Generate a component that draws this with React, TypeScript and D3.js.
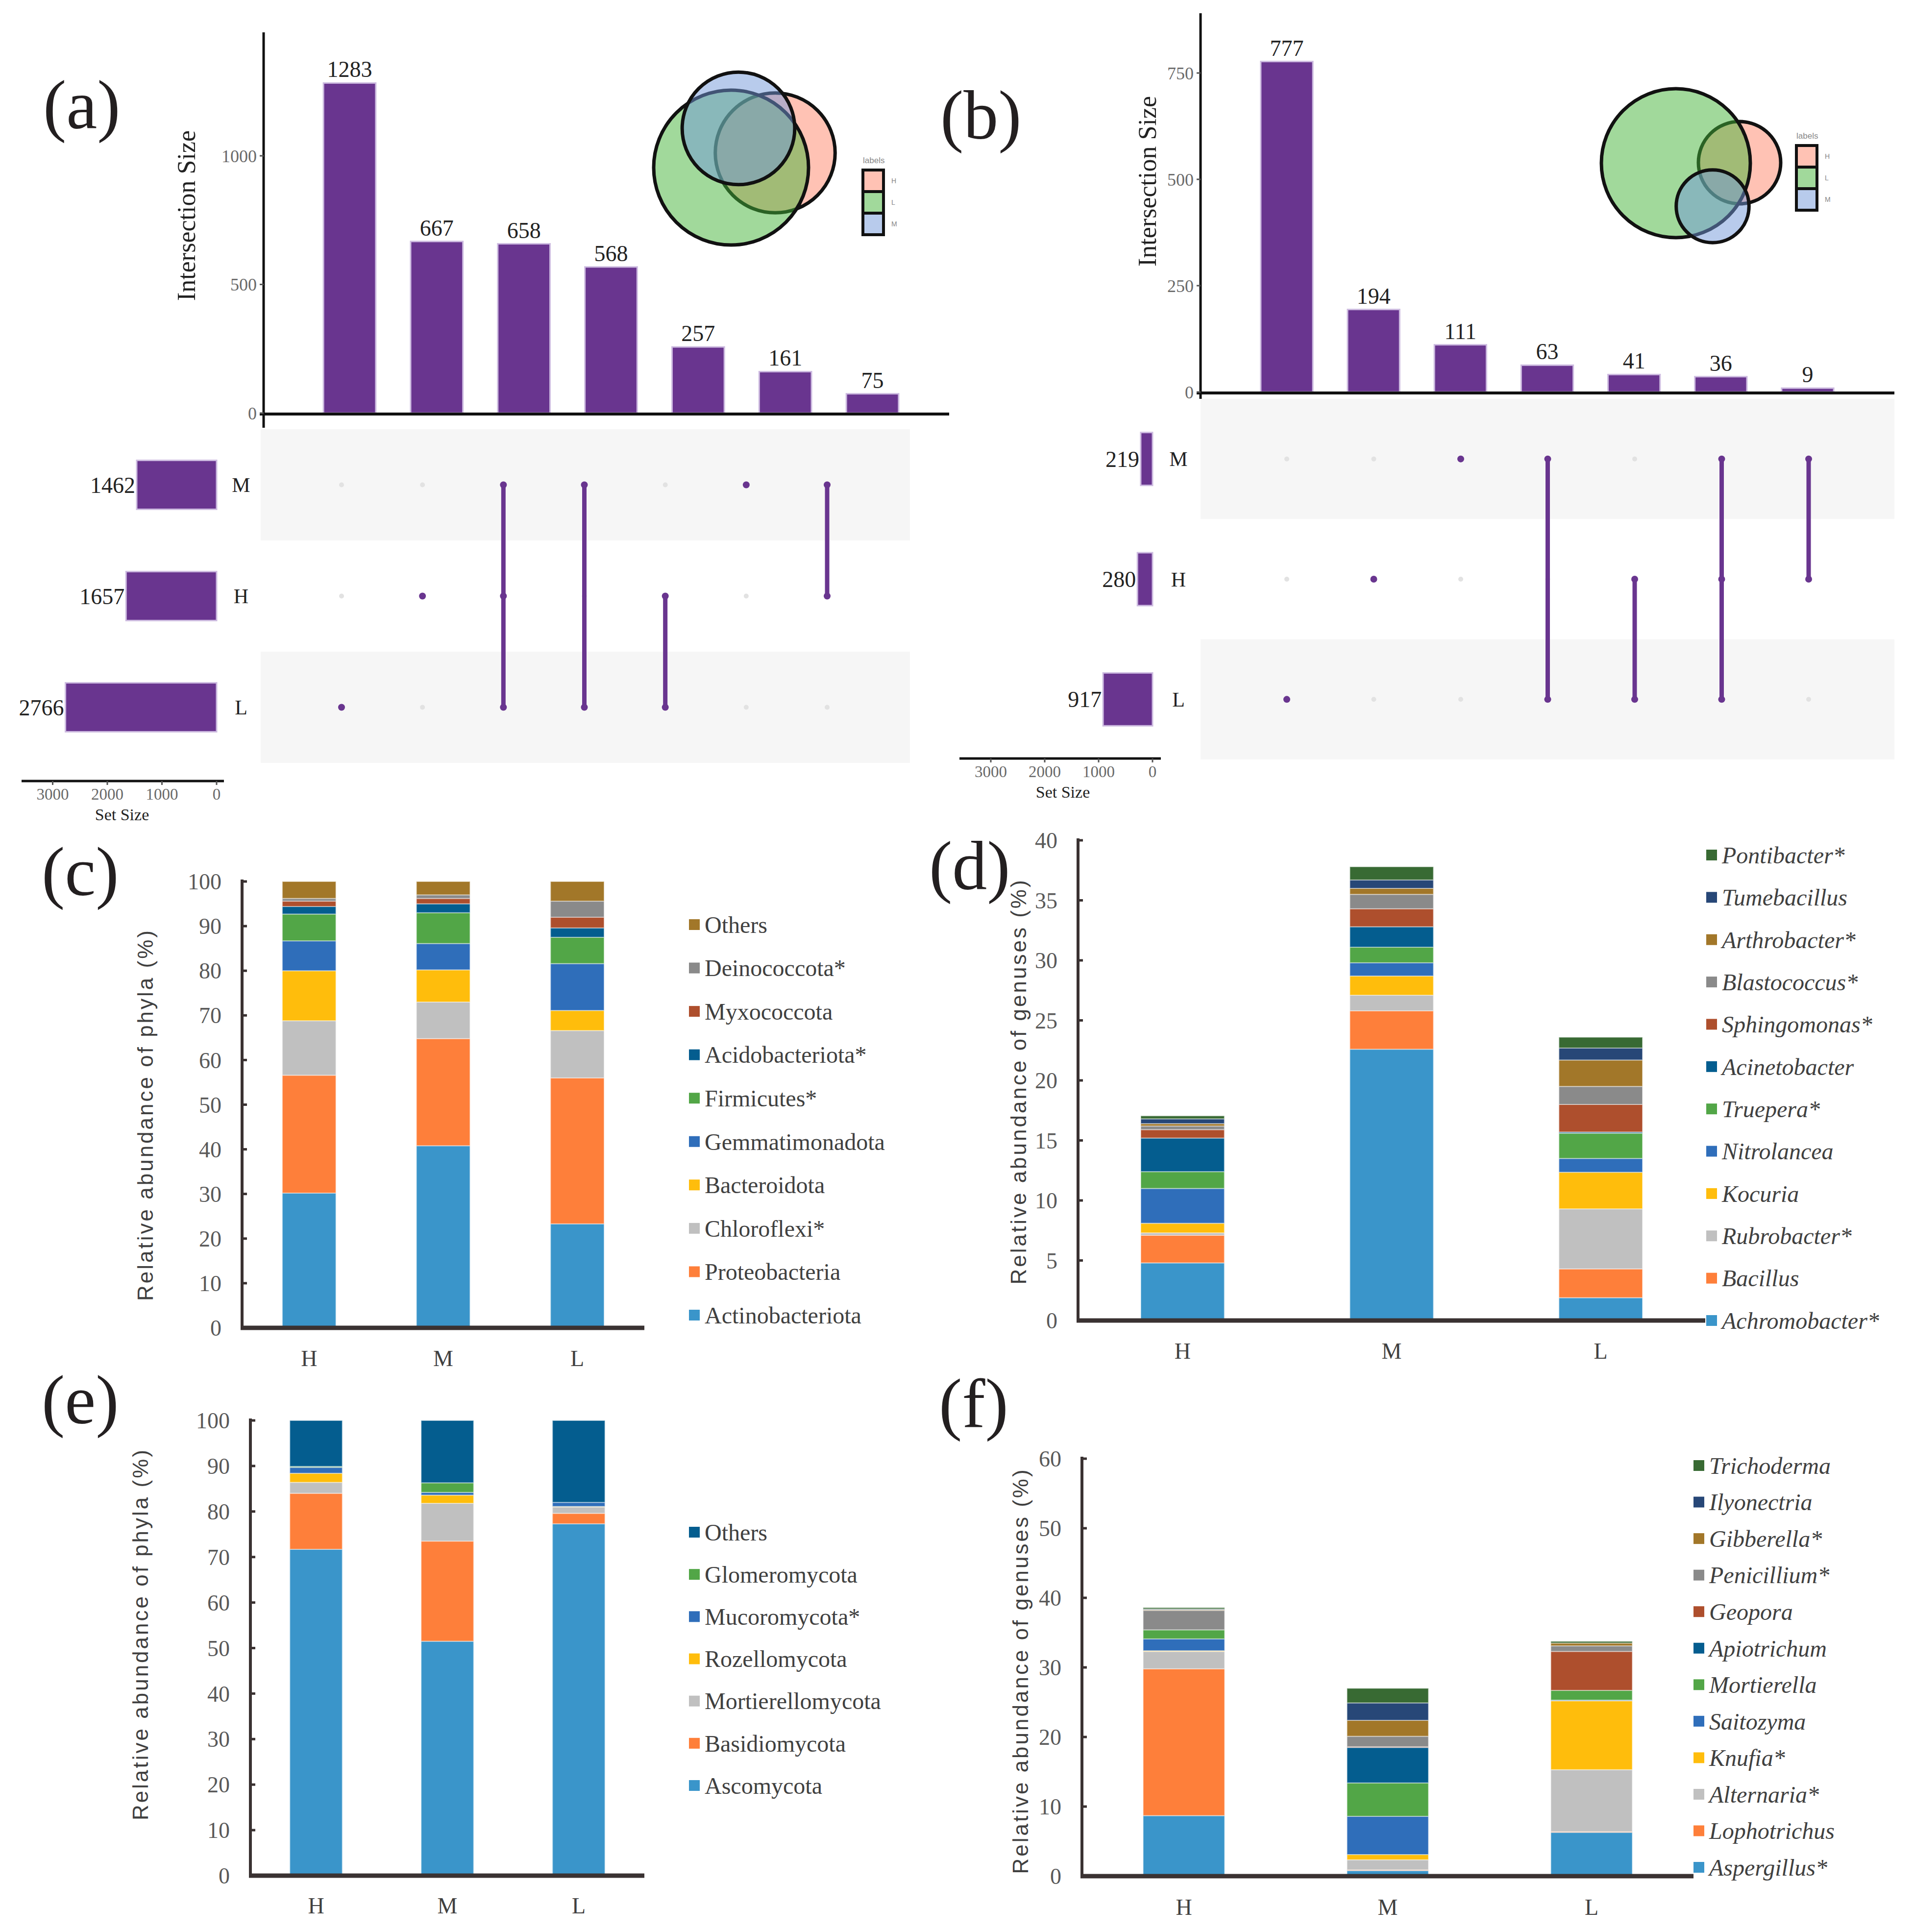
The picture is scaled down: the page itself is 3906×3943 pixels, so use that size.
import * as d3 from 'd3'

const W = 3906
const H = 3943
const SERIF = '"Liberation Serif", "DejaVu Serif", serif'
const SANS = '"Liberation Sans", Arial, sans-serif'
const PURPLE = '#69358f'
const AXIS = '#3a3232'

// UpSet data, rows of the matrix top to bottom
const setNames = ['M', 'H', 'L']

// (a) bacteria
const aSetSizes = [1462, 1657, 2766]
const aCounts = [1283, 667, 658, 568, 257, 161, 75]
const aMembers = [['L'], ['H'], ['M', 'H', 'L'], ['M', 'L'], ['H', 'L'], ['M'], ['M', 'H']]
const aTicks = [0, 500, 1000]

// (b) fungi
const bSetSizes = [219, 280, 917]
const bCounts = [777, 194, 111, 63, 41, 36, 9]
const bMembers = [['L'], ['H'], ['M'], ['M', 'L'], ['H', 'L'], ['M', 'H', 'L'], ['M', 'H']]
const bTicks = [0, 250, 500, 750]

const sizeTicks = [0, 1000, 2000, 3000]

// venn legend order and colours
const vennOrder = ['H', 'L', 'M']
const vennColors = ['#ff8569', '#43b337', '#7197d9']

// stacked bars
const groups = ['H', 'M', 'L']
const palette = ['#3a95ca', '#fe7f3a', '#c0c0c0', '#ffbd0c', '#2f6eba', '#52a647',
  '#045d8f', '#ae4f2d', '#8a8a8a', '#a27729', '#274777', '#386a33']

// (c) bacterial phyla, bottom to top
const bactPhyla = ['Actinobacteriota', 'Proteobacteria', 'Chloroflexi*', 'Bacteroidota', 'Gemmatimonadota',
  'Firmicutes*', 'Acidobacteriota*', 'Myxococcota', 'Deinococcota*', 'Others']
const bactPhylaH = [30.2, 26.4, 12.2, 11.2, 6.7, 6.0, 1.7, 1.2, 0.6, 3.8]
const bactPhylaM = [40.8, 24.0, 8.2, 7.2, 5.9, 6.9, 2.0, 1.2, 0.8, 3.0]
const bactPhylaL = [23.3, 32.7, 10.6, 4.5, 10.5, 5.9, 2.1, 2.4, 3.6, 4.4]

// (d) bacterial genera
const bactGenera = ['Achromobacter*', 'Bacillus', 'Rubrobacter*', 'Kocuria', 'Nitrolancea', 'Truepera*',
  'Acinetobacter', 'Sphingomonas*', 'Blastococcus*', 'Arthrobacter*', 'Tumebacillus', 'Pontibacter*']
const bactGeneraH = [4.8, 2.3, 0.2, 0.8, 2.9, 1.4, 2.8, 0.7, 0.3, 0.2, 0.4, 0.25]
const bactGeneraM = [22.6, 3.2, 1.3, 1.6, 1.1, 1.3, 1.7, 1.5, 1.2, 0.5, 0.7, 1.1]
const bactGeneraL = [1.9, 2.4, 5.0, 3.05, 1.15, 2.1, 0.1, 2.3, 1.5, 2.2, 1.0, 0.9]

// (e) fungal phyla
const fungPhyla = ['Ascomycota', 'Basidiomycota', 'Mortierellomycota', 'Rozellomycota', 'Mucoromycota*',
  'Glomeromycota', 'Others']
const fungPhylaH = [71.7, 12.3, 2.4, 2.0, 1.3, 0.2, 10.1]
const fungPhylaM = [51.5, 22.0, 8.3, 1.8, 0.6, 2.1, 13.7]
const fungPhylaL = [77.3, 2.3, 1.4, 0.1, 0.9, 0.0, 18.0]

// (f) fungal genera
const fungGenera = ['Aspergillus*', 'Lophotrichus', 'Alternaria*', 'Knufia*', 'Saitozyma', 'Mortierella',
  'Apiotrichum', 'Geopora', 'Penicillium*', 'Gibberella*', 'Ilyonectria', 'Trichoderma']
const fungGeneraH = [8.7, 21.1, 2.5, 0.1, 1.7, 1.3, 0.0, 0.0, 2.8, 0.1, 0.1, 0.2]
const fungGeneraM = [0.8, 0.1, 1.45, 0.75, 5.5, 4.8, 5.1, 0.1, 1.5, 2.3, 2.5, 2.1]
const fungGeneraL = [6.3, 0.1, 8.9, 9.9, 0.1, 1.4, 0.0, 5.6, 0.8, 0.4, 0.0, 0.25]

function UpSet({ counts, members, sizes, ticks, L }: any) {
  const cols = counts.map((_: number, i: number) => 'c' + i)
  const xBar = d3.scaleBand().domain(cols).range(L.barRange).paddingInner(0.4).paddingOuter(0.4)
  const y = d3.scaleLinear().domain([0, L.yRef]).range([L.y0, L.yRefPx])
  const xDot = d3.scalePoint().domain(cols).range(L.dotRange)
  const row = d3.scaleBand().domain(setNames).range(L.rowRange)
  const sx = d3.scaleLinear().domain([0, 1000]).range([L.sizeX0, L.sizeX0 - L.sizeK * 1000])
  const bh = row.bandwidth() * 0.44

  return (
    <g>
      {/* matrix background */}
      {setNames.map((s, i) => i % 2 === 0 && (
        <rect key={s} x={L.matX[0]} y={row(s)} width={L.matX[1] - L.matX[0]} height={row.bandwidth()} fill="#f6f6f6" />
      ))}
      {/* intersection bars */}
      {counts.map((c: number, i: number) => (
        <g key={i}>
          <rect x={xBar(cols[i])} y={y(c)} width={xBar.bandwidth()} height={y(0) - y(c)}
            fill={PURPLE} stroke="#cdbbe0" strokeWidth={3} />
          <text x={xBar(cols[i])! + xBar.bandwidth() / 2} y={y(c) - 12} textAnchor="middle"
            fontFamily={SERIF} fontSize={46} fill="#222">{c}</text>
        </g>
      ))}
      <line x1={L.axisX} x2={L.axisX} y1={L.axisTop} y2={L.axisBottom} stroke="#111" strokeWidth={5} />
      <line x1={L.axisX - 8} x2={L.baseEnd} y1={L.baseY} y2={L.baseY} stroke="#111" strokeWidth={6} />
      {ticks.map((t: number) => (
        <g key={t}>
          <line x1={L.axisX - 8} x2={L.axisX} y1={y(t)} y2={y(t)} stroke="#555" strokeWidth={3} />
          <text x={L.axisX - 14} y={y(t)} dy="0.35em" textAnchor="end" fontFamily={SERIF}
            fontSize={36} fill="#6a6a6a">{t}</text>
        </g>
      ))}
      <text transform={`translate(${L.titleX},${L.titleY}) rotate(-90)`} textAnchor="middle" dy="0.35em"
        fontFamily={SERIF} fontSize={52} fill="#222">Intersection Size</text>

      {/* dots */}
      {cols.map((c: string, i: number) => {
        const m = members[i]
        const ys = m.map((s: string) => row(s)! + row.bandwidth() / 2)
        return (
          <g key={c}>
            {setNames.map(s => (
              <circle key={s} cx={xDot(c)} cy={row(s)! + row.bandwidth() / 2} r={5} fill="#e2e2e2" />
            ))}
            {m.length > 1 && (
              <line x1={xDot(c)} x2={xDot(c)} y1={d3.min(ys)} y2={d3.max(ys)} stroke={PURPLE}
                strokeWidth={9} strokeLinecap="round" />
            )}
            {m.map((s: string) => (
              <circle key={s} cx={xDot(c)} cy={row(s)! + row.bandwidth() / 2} r={7} fill={PURPLE} />
            ))}
          </g>
        )
      })}

      {/* set sizes */}
      {setNames.map((s, i) => {
        const cy = row(s)! + row.bandwidth() / 2
        return (
          <g key={s}>
            <rect x={sx(sizes[i])} y={cy - bh / 2} width={sx(0) - sx(sizes[i])} height={bh}
              fill={PURPLE} stroke="#cdbbe0" strokeWidth={3} />
            <text x={sx(sizes[i]) - 3} y={cy} dy="0.35em" textAnchor="end" fontFamily={SERIF}
              fontSize={46} fill="#222">{sizes[i]}</text>
            <text x={L.setLabelX} y={cy} dy="0.35em" textAnchor="middle" fontFamily={SERIF}
              fontSize={42} fill="#222">{s}</text>
          </g>
        )
      })}
      <line x1={L.sizeAxis[0]} x2={L.sizeAxis[1]} y1={L.sizeAxisY} y2={L.sizeAxisY} stroke="#111" strokeWidth={5} />
      {sizeTicks.map(t => (
        <g key={t}>
          <line x1={sx(t)} x2={sx(t)} y1={L.sizeAxisY} y2={L.sizeAxisY + 8} stroke="#555" strokeWidth={3} />
          <text x={sx(t)} y={L.sizeAxisY + 38} textAnchor="middle" fontFamily={SERIF}
            fontSize={33} fill="#6a6a6a">{t}</text>
        </g>
      ))}
      <text x={L.sizeTitleX} y={L.sizeAxisY + 80} textAnchor="middle" fontFamily={SERIF}
        fontSize={34} fill="#222">Set Size</text>
    </g>
  )
}

function Venn({ sizes, centers, rMax, legend }: any) {
  const sizeOf = (s: string) => sizes[setNames.indexOf(s)]
  const r = d3.scaleSqrt().domain([0, d3.max(sizes) as number]).range([0, rMax])
  const key = d3.scaleBand().domain(vennOrder).range([legend.y, legend.y + 132])
  return (
    <g>
      {vennOrder.map((s, i) => (
        <circle key={s} cx={centers[s][0]} cy={centers[s][1]} r={r(sizeOf(s))}
          fill={vennColors[i]} fillOpacity={0.5} stroke="#111" strokeWidth={7} />
      ))}
      <text x={legend.x} y={legend.y - 14} fontFamily={SANS} fontSize={17} fill="#888">labels</text>
      {vennOrder.map((s, i) => (
        <g key={s}>
          <rect x={legend.x} y={key(s)} width={42} height={key.bandwidth()} fill="#fff" />
          <rect x={legend.x} y={key(s)} width={42} height={key.bandwidth()} fill={vennColors[i]}
            fillOpacity={0.5} stroke="#111" strokeWidth={6} />
          <text x={legend.x + 58} y={key(s)! + key.bandwidth() / 2} dy="0.35em" fontFamily={SANS}
            fontSize={14} fill="#888">{s}</text>
        </g>
      ))}
    </g>
  )
}

function Stacked({ keys, rows, L, italic }: any) {
  const table = groups.map((g, gi) => {
    const o: any = { group: g }
    keys.forEach((k: string, ki: number) => { o[k] = rows[gi][ki] })
    return o
  })
  const series = d3.stack().keys(keys)(table)
  const x = d3.scaleBand().domain(groups).range(L.xRange).paddingInner(0.6).paddingOuter(0.3)
  const y = d3.scaleLinear().domain(L.yDomain).range(L.yRange)
  const ticks = d3.range(L.yDomain[0], L.yDomain[1] + 0.001, L.tickStep)
  const leg = d3.scalePoint().domain([...keys].reverse()).range(L.legRange)
  const axisX = L.xRange[0]

  return (
    <g>
      {series.map((s: any, si: number) => (
        <g key={s.key} fill={palette[si]}>
          {s.map((d: any) => d[1] - d[0] > 0 && (
            <rect key={d.data.group} x={x(d.data.group)} y={y(d[1])} width={x.bandwidth()}
              height={y(d[0]) - y(d[1])} stroke="#ffffff" strokeOpacity={0.45} strokeWidth={2} />
          ))}
        </g>
      ))}
      <line x1={axisX} x2={axisX} y1={y(L.yDomain[1]) - 4} y2={y(0)} stroke={AXIS} strokeWidth={6} />
      <line x1={axisX - 3} x2={L.xRange[1]} y1={y(0)} y2={y(0)} stroke={AXIS} strokeWidth={9} />
      {ticks.map((t: number) => (
        <g key={t}>
          <line x1={axisX} x2={axisX + 10} y1={y(t)} y2={y(t)} stroke={AXIS} strokeWidth={5} />
          <text x={axisX - 42} y={y(t)} dy="0.35em" textAnchor="end" fontFamily={SERIF}
            fontSize={46} fill="#595959">{t}</text>
        </g>
      ))}
      {groups.map(g => (
        <text key={g} x={x(g)! + x.bandwidth() / 2} y={L.catY} textAnchor="middle" fontFamily={SERIF}
          fontSize={46} fill="#404040">{g}</text>
      ))}
      <text transform={`translate(${L.titleX},${L.titleY}) rotate(-90)`} textAnchor="middle" dy="0.35em"
        fontFamily={SANS} fontSize={44} letterSpacing={4} fill="#404040">{L.title}</text>
      {keys.map((k: string, ki: number) => (
        <g key={k}>
          <rect x={L.legX} y={leg(k)! - 11} width={22} height={22} fill={palette[ki]} />
          <text x={L.legX + 32} y={leg(k)} dy="0.35em" fontFamily={SERIF} fontSize={48}
            fontStyle={italic ? 'italic' : 'normal'} fill="#404040">{k}</text>
        </g>
      ))}
    </g>
  )
}

function PanelLabel({ x, y, t }: any) {
  return <text x={x} y={y} fontFamily={SERIF} fontSize={142} fill="#231f20">{t}</text>
}

export default function App() {
  const layoutA = {
    barRange: [589, 1905], yRef: 1000, y0: 843, yRefPx: 318,
    dotRange: [697, 1688], rowRange: [876, 1557], matX: [532, 1857],
    sizeX0: 442, sizeK: 0.1115, axisX: 538, axisTop: 66, axisBottom: 873, baseY: 845, baseEnd: 1937,
    titleX: 380, titleY: 440, setLabelX: 492, sizeAxis: [44, 457], sizeAxisY: 1594, sizeTitleX: 249,
  }
  const layoutB = {
    barRange: [2502, 3813], yRef: 750, y0: 800, yRefPx: 149,
    dotRange: [2626, 3691], rowRange: [814, 1550], matX: [2450, 3866],
    sizeX0: 2352, sizeK: 0.11, axisX: 2450, axisTop: 27, axisBottom: 814, baseY: 802, baseEnd: 3866,
    titleX: 2341, titleY: 370, setLabelX: 2405, sizeAxis: [1958, 2369], sizeAxisY: 1548, sizeTitleX: 2169,
  }

  return (
    <div style={{ position: 'absolute', left: 0, top: 0 }}>
      <svg width={W} height={H} viewBox={`0 0 ${W} ${H}`} style={{ display: 'block', background: '#fff' }}>
        <rect width={W} height={H} fill="#fff" />
        <PanelLabel x={88} y={262} t="(a)" />
        <PanelLabel x={1919} y={283} t="(b)" />
        <PanelLabel x={85} y={1827} t="(c)" />
        <PanelLabel x={1896} y={1815} t="(d)" />
        <PanelLabel x={85} y={2905} t="(e)" />
        <PanelLabel x={1916} y={2912} t="(f)" />

        <UpSet counts={aCounts} members={aMembers} sizes={aSetSizes} ticks={aTicks} L={layoutA} />
        <UpSet counts={bCounts} members={bMembers} sizes={bSetSizes} ticks={bTicks} L={layoutB} />

        <Venn sizes={aSetSizes} rMax={158}
          centers={{ L: [1492, 342], M: [1507, 262], H: [1582, 312] }}
          legend={{ x: 1761, y: 347 }} />
        <Venn sizes={bSetSizes} rMax={152}
          centers={{ L: [3420, 333], H: [3550, 332], M: [3495, 421] }}
          legend={{ x: 3666, y: 297 }} />

        <Stacked keys={bactPhyla} rows={[bactPhylaH, bactPhylaM, bactPhylaL]} L={{
          xRange: [494, 1315], yDomain: [0, 100], yRange: [2710, 1799], tickStep: 10, catY: 2788,
          titleX: 297, titleY: 2275, title: 'Relative abundance of phyla  (%)', legX: 1406, legRange: [1887, 2684],
        }} />
        <Stacked keys={bactGenera} rows={[bactGeneraH, bactGeneraM, bactGeneraL]} italic L={{
          xRange: [2200, 3480], yDomain: [0, 40], yRange: [2695, 1715], tickStep: 5, catY: 2773,
          titleX: 2079, titleY: 2207, title: 'Relative abundance of genuses  (%)', legX: 3482, legRange: [1745, 2695],
        }} />
        <Stacked keys={fungPhyla} rows={[fungPhylaH, fungPhylaM, fungPhylaL]} L={{
          xRange: [511, 1315], yDomain: [0, 100], yRange: [3828, 2899], tickStep: 10, catY: 3905,
          titleX: 287, titleY: 3335, title: 'Relative abundance of phyla  (%)', legX: 1406, legRange: [3127, 3644],
        }} />
        <Stacked keys={fungGenera} rows={[fungGeneraH, fungGeneraM, fungGeneraL]} italic L={{
          xRange: [2208, 3456], yDomain: [0, 60], yRange: [3829, 2977], tickStep: 10, catY: 3908,
          titleX: 2083, titleY: 3410, title: 'Relative abundance of genuses  (%)', legX: 3456, legRange: [2991, 3811],
        }} />
      </svg>
    </div>
  )
}
